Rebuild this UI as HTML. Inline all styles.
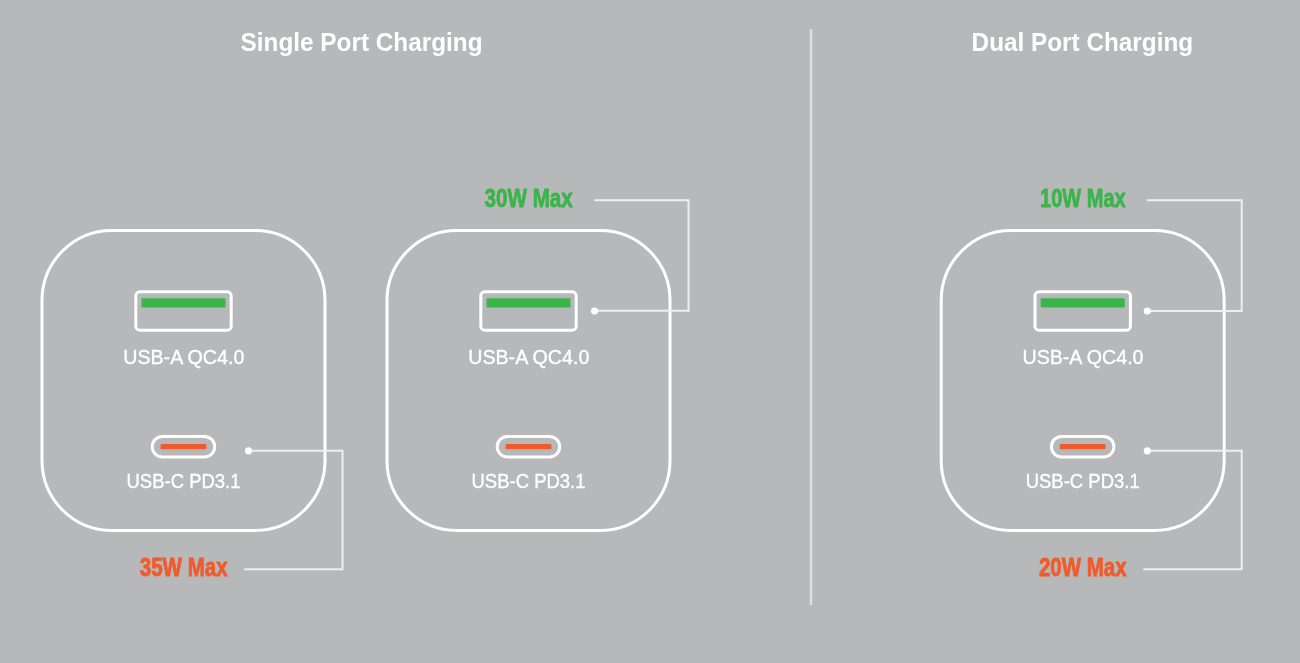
<!DOCTYPE html>
<html><head><meta charset="utf-8">
<style>
html,body{margin:0;padding:0;background:#b7b8ba;width:1300px;height:663px;overflow:hidden}
svg{display:block;position:absolute;left:0;top:0;will-change:transform}
</style></head><body>
<svg width="1300" height="663" viewBox="0 0 1300 663">
<rect x="0" y="0" width="1300" height="663" fill="#b7b8ba"/>
<g font-family="Liberation Sans, sans-serif" fill="#ffffff">
<text x="240.6" y="51.1" font-size="26" font-weight="bold" textLength="242" lengthAdjust="spacingAndGlyphs">Single Port Charging</text>
<text x="971.6" y="51.1" font-size="26" font-weight="bold" textLength="221.5" lengthAdjust="spacingAndGlyphs">Dual Port Charging</text>
</g>
<line x1="811" y1="29" x2="811" y2="605" stroke="#dfdfe1" stroke-width="2.4"/>

<g id="charger" fill="none" stroke="#ffffff">
<rect x="42" y="230.5" width="283" height="300" rx="70" ry="70" stroke-width="3"/>
<rect x="135.8" y="291.8" width="95.4" height="38.4" rx="4" stroke-width="3"/>
<rect x="152.2" y="436.4" width="62.5" height="20.6" rx="10.3" stroke-width="3"/>
</g>
<rect x="141.5" y="298.2" width="84" height="9.4" rx="1" fill="#3bb44b"/>
<rect x="160.5" y="444.1" width="46" height="5.2" rx="1.6" fill="#f05b2b"/>

<g transform="translate(345,0)">
<rect x="42" y="230.5" width="283" height="300" rx="70" ry="70" stroke-width="3" fill="none" stroke="#fff"/>
<rect x="135.8" y="291.8" width="95.4" height="38.4" rx="4" stroke-width="3" fill="none" stroke="#fff"/>
<rect x="152.2" y="436.4" width="62.5" height="20.6" rx="10.3" stroke-width="3" fill="none" stroke="#fff"/>
<rect x="141.5" y="298.2" width="84" height="9.4" rx="1" fill="#3bb44b"/>
<rect x="160.5" y="444.1" width="46" height="5.2" rx="1.6" fill="#f05b2b"/>
</g>
<g transform="translate(899.2,0)">
<rect x="42" y="230.5" width="283" height="300" rx="70" ry="70" stroke-width="3" fill="none" stroke="#fff"/>
<rect x="135.8" y="291.8" width="95.4" height="38.4" rx="4" stroke-width="3" fill="none" stroke="#fff"/>
<rect x="152.2" y="436.4" width="62.5" height="20.6" rx="10.3" stroke-width="3" fill="none" stroke="#fff"/>
<rect x="141.5" y="298.2" width="84" height="9.4" rx="1" fill="#3bb44b"/>
<rect x="160.5" y="444.1" width="46" height="5.2" rx="1.6" fill="#f05b2b"/>
</g>

<g font-family="Liberation Sans, sans-serif" fill="#ffffff" stroke="#ffffff" stroke-width="0.35" font-size="20" text-anchor="middle">
<text x="183.8" y="364" textLength="121" lengthAdjust="spacingAndGlyphs">USB-A QC4.0</text>
<text x="183.5" y="488.4" textLength="114" lengthAdjust="spacingAndGlyphs">USB-C PD3.1</text>
<text x="528.8" y="364" textLength="121" lengthAdjust="spacingAndGlyphs">USB-A QC4.0</text>
<text x="528.5" y="488.4" textLength="114" lengthAdjust="spacingAndGlyphs">USB-C PD3.1</text>
<text x="1083" y="364" textLength="121" lengthAdjust="spacingAndGlyphs">USB-A QC4.0</text>
<text x="1082.7" y="488.4" textLength="114" lengthAdjust="spacingAndGlyphs">USB-C PD3.1</text>
</g>

<g fill="none" stroke="#eeeeef" stroke-width="2">
<path d="M248.5 450.8 H342.5 V569.3 H244.3"/>
<path d="M594.5 310.8 H688.5 V200.3 H594.3"/>
<path d="M1147.3 311 H1241.7 V200.3 H1147"/>
<path d="M1147.3 450.8 H1241.7 V569.3 H1143.3"/>
</g>
<g fill="#ffffff">
<circle cx="248.5" cy="450.8" r="3.6"/>
<circle cx="594.5" cy="311" r="3.6"/>
<circle cx="1147.3" cy="311" r="3.6"/>
<circle cx="1147.3" cy="450.8" r="3.6"/>
</g>

<g font-family="Liberation Sans, sans-serif" font-size="26" font-weight="bold">
<text x="139.7" y="576.2" fill="#f05b2b" stroke="#f05b2b" stroke-width="0.8" textLength="88" lengthAdjust="spacingAndGlyphs">35W Max</text>
<text x="484.5" y="206.8" fill="#3bb44b" stroke="#3bb44b" stroke-width="0.8" textLength="88.3" lengthAdjust="spacingAndGlyphs">30W Max</text>
<text x="1040.1" y="206.8" fill="#3bb44b" stroke="#3bb44b" stroke-width="0.8" textLength="85.6" lengthAdjust="spacingAndGlyphs">10W Max</text>
<text x="1038.9" y="576.2" fill="#f05b2b" stroke="#f05b2b" stroke-width="0.8" textLength="87.7" lengthAdjust="spacingAndGlyphs">20W Max</text>
</g>
</svg>
</body></html>
